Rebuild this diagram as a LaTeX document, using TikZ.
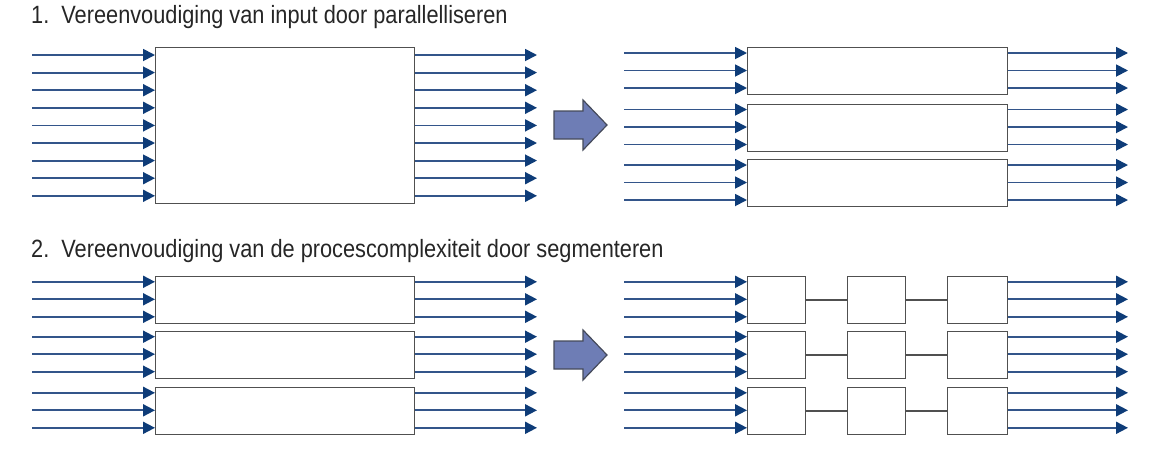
\documentclass[tikz,border=0pt]{standalone}
\usepackage{fontspec}
\newfontfamily\titlefont[FakeStretch=0.87]{Liberation Sans}
\usetikzlibrary{arrows.meta}
\definecolor{arrline}{HTML}{33558A}
\definecolor{arrhead}{HTML}{0E3C78}
\definecolor{boxline}{HTML}{505050}
\definecolor{bigfill}{HTML}{6E7DB5}
\definecolor{bigline}{HTML}{454A5A}
\tikzset{
  flow/.style={draw=arrline, line width=1.8pt, -{Triangle[length=12pt,width=12pt,fill=arrhead,color=arrhead]}},
  procbox/.style={draw=boxline, line width=1.4pt, fill=white, inner sep=0pt, anchor=north west},
  link/.style={draw=boxline, line width=1.4pt},
  bigarrow/.style={draw=bigline, line width=1.2pt, fill=bigfill, line join=miter},
  title/.style={anchor=base west, inner sep=0pt, font=\titlefont\fontsize{25}{28}\selectfont, text=black!85}
}
\begin{document}
\begin{tikzpicture}[x=1pt,y=-1pt]
\useasboundingbox (0,0) rectangle (1172,459);
\fill[white] (0,0) rectangle (1172,459);

% titles
\node[title] (t1) at (31,23) {1.\ \ Vereenvoudiging van input door parallelliseren};
\node[title] (t2) at (31,257) {2.\ \ Vereenvoudiging van de procescomplexiteit door segmenteren};

% ===== Section 1 left =====
\node[procbox, minimum width=259pt, minimum height=156pt] (A) at (155,47) {};
\foreach \i in {0,...,8} {
  \pgfmathsetmacro{\yy}{55+17.6*\i}
  \coordinate (ain\i) at (32,\yy);
  \coordinate (aout\i) at (537,\yy);
  \draw[flow] (ain\i) -- (ain\i -| A.west);
  \draw[flow] (aout\i -| A.east) -- (aout\i);
}

% big arrow 1
\draw[bigarrow] (554,111) -- (583,111) -- (583,100) -- (607,125) -- (583,150) -- (583,139) -- (554,139) -- cycle;

% ===== Section 1 right =====
\foreach \r/\c in {1/70.5,2/127,3/182.5} {
  \node[procbox, minimum width=260pt, minimum height=47pt] (B\r) at (747,\c-23.5) {};
  \foreach \d [count=\k] in {-17.5,0,17.5} {
    \coordinate (bin\r\k) at (624,\c+\d);
    \coordinate (bout\r\k) at (1128,\c+\d);
    \draw[flow] (bin\r\k) -- (bin\r\k -| B\r.west);
    \draw[flow] (bout\r\k -| B\r.east) -- (bout\r\k);
  }
}

% ===== Section 2 left =====
\foreach \r/\c in {1/299.3,2/354.2,3/410.3} {
  \node[procbox, minimum width=259pt, minimum height=47pt] (C\r) at (155,\c-23.5) {};
  \foreach \d [count=\k] in {-17.5,0,17.5} {
    \coordinate (cin\r\k) at (32,\c+\d);
    \coordinate (cout\r\k) at (537,\c+\d);
    \draw[flow] (cin\r\k) -- (cin\r\k -| C\r.west);
    \draw[flow] (cout\r\k -| C\r.east) -- (cout\r\k);
  }
}

% big arrow 2
\draw[bigarrow] (554,341) -- (583,341) -- (583,330) -- (607,355) -- (583,380) -- (583,369) -- (554,369) -- cycle;

% ===== Section 2 right =====
\foreach \r/\c in {1/299.3,2/354.2,3/410.3} {
  \node[procbox, minimum width=58pt, minimum height=47pt] (D\r a) at (747,\c-23.5) {};
  \node[procbox, minimum width=58pt, minimum height=47pt] (D\r b) at (847,\c-23.5) {};
  \node[procbox, minimum width=60pt, minimum height=47pt] (D\r c) at (947,\c-23.5) {};
  \draw[link] (D\r a.east) -- (D\r b.west);
  \draw[link] (D\r b.east) -- (D\r c.west);
  \foreach \d [count=\k] in {-17.5,0,17.5} {
    \coordinate (din\r\k) at (624,\c+\d);
    \coordinate (dout\r\k) at (1128,\c+\d);
    \draw[flow] (din\r\k) -- (din\r\k -| D\r a.west);
    \draw[flow] (dout\r\k -| D\r c.east) -- (dout\r\k);
  }
}
\end{tikzpicture}
\end{document}
